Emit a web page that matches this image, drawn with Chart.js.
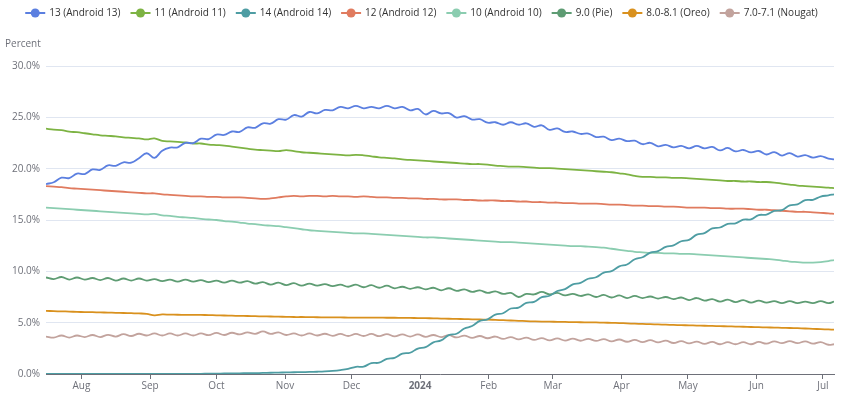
<!DOCTYPE html>
<html>
<head>
<meta charset="utf-8">
<script src="https://cdn.jsdelivr.net/npm/chart.js@4.4.1/dist/chart.umd.min.js"></script>
<style>
  html, body { margin: 0; padding: 0; background: #fff; }
  canvas { display: block; }
</style>
</head>
<body>
<canvas id="chart" width="843" height="396"></canvas>
<script>
// days since 2023-07-16, one sample every 3.5 days
const sampleDays = [0,3.5,7,10.5,14,17.5,21,24.5,28,31.5,35,38.5,42,45.5,49,52.5,56,59.5,63,66.5,
  70,73.5,77,80.5,84,87.5,91,94.5,98,101.5,105,108.5,112,115.5,119,122.5,126,129.5,133,136.5,
  140,143.5,147,150.5,154,157.5,161,164.5,168,171.5,175,178.5,182,185.5,189,192.5,196,199.5,203,206.5,
  210,213.5,217,220.5,224,227.5,231,234.5,238,241.5,245,248.5,252,255.5,259,262.5,266,269.5,273,276.5,
  280,283.5,287,290.5,294,297.5,301,304.5,308,311.5,315,318.5,322,325.5,329,332.5,336,339.5,343,346.5,
  350,353.5,356]

// month ticks (day offsets) and their labels
const monthDays   = [16, 47, 77, 108, 138, 169, 200, 229, 260, 290, 321, 351]
const monthLabels = ["Aug", "Sep", "Oct", "Nov", "Dec", "2024", "Feb", "Mar", "Apr", "May", "Jun", "Jul"]

const seriesNames = ["13 (Android 13)", "11 (Android 11)", "14 (Android 14)", "12 (Android 12)",
  "10 (Android 10)", "9.0 (Pie)", "8.0-8.1 (Oreo)", "7.0-7.1 (Nougat)"]
const seriesColors = ["#5b7fe0", "#7db343", "#4e9da3", "#e07b5f", "#8bcdb0", "#5e9c73", "#d9911e", "#c2a39d"]

const android13 = [18.5,18.68,19.12,19.08,19.52,19.48,19.92,19.88,20.32,20.28,
  20.62,20.58,21.02,21.5,21.05,21.75,22.05,22.08,22.52,22.48,
  22.92,22.88,23.32,23.28,23.62,23.58,24.02,23.98,24.42,24.38,
  24.82,24.78,25.22,25.08,25.52,25.38,25.72,25.68,26.02,25.88,
  26.12,25.88,26.02,25.88,26.12,25.88,26.02,25.68,25.82,25.28,
  25.62,25.38,25.42,24.98,25.12,24.78,24.82,24.48,24.52,24.28,
  24.52,24.28,24.42,24.08,24.22,23.78,23.92,23.58,23.62,23.38,
  23.42,23.08,23.12,22.78,22.92,22.68,22.72,22.38,22.52,22.18,
  22.32,22.08,22.22,21.98,22.22,21.98,22.12,21.78,22.02,21.68,
  21.82,21.58,21.72,21.38,21.62,21.28,21.52,21.18,21.32,21.08,
  21.22,20.98,20.9]
const android11 = [23.9,23.8,23.75,23.6,23.55,23.45,23.35,23.25,23.2,23.15,
  23.05,23.0,22.95,22.85,22.95,22.7,22.65,22.6,22.55,22.45,
  22.45,22.35,22.3,22.25,22.15,22.05,21.95,21.85,21.8,21.75,
  21.7,21.8,21.7,21.6,21.55,21.5,21.45,21.4,21.35,21.3,
  21.35,21.3,21.2,21.1,21.05,21.0,20.9,20.85,20.8,20.75,
  20.7,20.65,20.6,20.55,20.5,20.45,20.45,20.4,20.3,20.25,
  20.2,20.2,20.15,20.1,20.05,20.05,20.0,19.95,19.9,19.85,
  19.8,19.75,19.7,19.65,19.55,19.45,19.3,19.2,19.2,19.15,
  19.15,19.1,19.1,19.05,19.0,18.95,18.9,18.85,18.8,18.8,
  18.75,18.75,18.7,18.7,18.65,18.55,18.45,18.35,18.3,18.25,
  18.2,18.15,18.1]
const android14 = [0,0,0,0,0,0,0,0,0,0,
  0,0,0,0,0,0,0,0,0,0.01,
  0.02,0.03,0.04,0.05,0.06,0.07,0.08,0.09,0.1,0.12,
  0.14,0.15,0.17,0.18,0.2,0.22,0.25,0.3,0.38,0.5,
  0.7,0.72,1.06,1.1,1.48,1.57,1.98,2.07,2.48,2.62,
  3.08,3.27,3.78,3.92,4.43,4.67,5.18,5.32,5.78,5.92,
  6.38,6.47,6.93,7.02,7.48,7.62,8.08,8.27,8.73,8.87,
  9.28,9.42,9.88,10.02,10.48,10.67,11.18,11.37,11.83,11.97,
  12.38,12.52,12.93,13.07,13.58,13.72,14.18,14.27,14.63,14.67,
  15.03,15.07,15.48,15.52,15.88,15.97,16.43,16.52,16.93,16.97,
  17.28,17.4,17.5]
const android12 = [18.3,18.25,18.2,18.1,18.05,18.0,17.95,17.9,17.85,17.8,
  17.75,17.7,17.65,17.6,17.6,17.5,17.45,17.4,17.35,17.3,
  17.3,17.25,17.25,17.2,17.2,17.2,17.15,17.1,17.05,17.1,
  17.2,17.3,17.35,17.3,17.35,17.35,17.3,17.35,17.3,17.3,
  17.25,17.3,17.25,17.2,17.2,17.15,17.15,17.1,17.1,17.05,
  17.05,17.0,17.0,17.0,16.95,16.95,16.9,16.9,16.9,16.85,
  16.85,16.8,16.8,16.75,16.75,16.7,16.7,16.65,16.65,16.6,
  16.6,16.6,16.55,16.5,16.5,16.45,16.4,16.4,16.35,16.35,
  16.3,16.3,16.25,16.2,16.2,16.2,16.15,16.15,16.1,16.1,
  16.1,16.05,16.0,16.0,15.95,15.9,15.85,15.8,15.8,15.75,
  15.7,15.65,15.6]
const android10 = [16.2,16.15,16.1,16.05,16.0,15.95,15.9,15.85,15.8,15.75,
  15.7,15.65,15.6,15.55,15.6,15.45,15.4,15.3,15.25,15.2,
  15.1,15.05,15.0,14.9,14.85,14.75,14.65,14.6,14.5,14.45,
  14.4,14.3,14.2,14.1,14.0,13.95,13.9,13.85,13.8,13.75,
  13.7,13.7,13.65,13.6,13.55,13.5,13.45,13.4,13.35,13.3,
  13.3,13.25,13.2,13.15,13.1,13.05,13.0,12.95,12.9,12.85,
  12.85,12.8,12.75,12.7,12.65,12.6,12.55,12.5,12.45,12.45,
  12.4,12.35,12.3,12.2,12.1,12.0,11.9,11.85,11.8,11.8,
  11.75,11.75,11.7,11.7,11.65,11.6,11.55,11.5,11.45,11.4,
  11.35,11.3,11.25,11.2,11.15,11.05,10.95,10.9,10.85,10.85,
  10.9,11.0,11.1]
const pie = [9.4,9.25,9.45,9.2,9.4,9.2,9.35,9.15,9.35,9.1,
  9.3,9.1,9.3,9.1,9.25,9.05,9.2,9.0,9.2,9.0,
  9.15,8.95,9.1,8.9,9.1,8.9,9.05,8.8,8.95,8.7,
  8.9,8.65,8.85,8.6,8.8,8.6,8.75,8.55,8.7,8.5,
  8.7,8.45,8.65,8.4,8.6,8.35,8.5,8.3,8.45,8.25,
  8.4,8.15,8.35,8.1,8.25,8.0,8.15,7.9,8.05,7.8,
  7.9,7.5,7.8,7.75,8.0,7.75,7.9,7.65,7.8,7.6,
  7.75,7.5,7.7,7.45,7.65,7.4,7.6,7.4,7.55,7.35,
  7.5,7.3,7.45,7.2,7.4,7.15,7.3,7.05,7.25,7.0,
  7.2,6.95,7.15,6.95,7.1,6.9,7.1,6.9,7.05,6.9,
  7.1,6.9,7.05]
const oreo = [6.15,6.12,6.1,6.08,6.05,6.03,6.02,6.0,5.98,5.96,
  5.94,5.92,5.9,5.86,5.72,5.8,5.78,5.77,5.76,5.75,
  5.75,5.74,5.72,5.7,5.68,5.66,5.65,5.63,5.61,5.6,
  5.58,5.57,5.55,5.55,5.54,5.53,5.52,5.52,5.51,5.5,
  5.5,5.5,5.49,5.49,5.48,5.48,5.47,5.46,5.45,5.44,
  5.42,5.4,5.38,5.36,5.35,5.33,5.31,5.3,5.27,5.24,
  5.21,5.18,5.15,5.12,5.1,5.1,5.08,5.07,5.05,5.04,
  5.03,5.02,5.0,4.98,4.96,4.93,4.9,4.88,4.85,4.83,
  4.8,4.78,4.76,4.74,4.72,4.7,4.68,4.66,4.64,4.62,
  4.6,4.58,4.56,4.54,4.52,4.5,4.48,4.46,4.43,4.4,
  4.37,4.34,4.32]
const nougat = [3.65,3.55,3.75,3.55,3.75,3.6,3.8,3.6,3.82,3.65,
  3.88,3.7,3.92,3.75,3.95,3.75,3.95,3.75,3.95,3.75,
  3.95,3.78,4.0,3.8,4.02,3.85,4.05,3.9,4.15,3.9,
  4.05,3.8,3.95,3.75,3.95,3.75,3.92,3.72,3.9,3.7,
  3.9,3.7,3.9,3.68,3.88,3.66,3.86,3.65,3.85,3.62,
  3.8,3.6,3.78,3.56,3.74,3.52,3.7,3.48,3.65,3.42,
  3.6,3.37,3.54,3.32,3.5,3.28,3.47,3.26,3.45,3.24,
  3.43,3.22,3.4,3.18,3.36,3.14,3.32,3.1,3.3,3.08,
  3.25,3.02,3.2,2.98,3.15,2.93,3.12,2.9,3.1,2.9,
  3.1,2.9,3.12,2.95,3.18,3.0,3.2,3.0,3.18,2.95,
  3.1,2.85,2.9]

const seriesValues = [android13, android11, android14, android12, android10, pie, oreo, nougat]

const FONT = "'Open Sans', 'Liberation Sans', sans-serif"
const AXIS_GRAY = "#6e7079"

// legend with line + dot markers, plus the "Percent" axis name
const legendPlugin = {
  id: "topLegend",
  afterDraw(chart) {
    const ctx = chart.ctx
    ctx.save()
    ctx.font = `10px ${FONT}`
    ctx.textBaseline = "middle"
    const iconW = 20, textGap = 4, itemGap = 10, y = 13
    const widths = seriesNames.map(n => ctx.measureText(n).width)
    const total = widths.reduce((a, w) => a + iconW + textGap + w, 0) + itemGap * (seriesNames.length - 1)
    let x = 421.5 - total / 2
    seriesNames.forEach((name, i) => {
      ctx.strokeStyle = seriesColors[i]
      ctx.lineWidth = 2
      ctx.beginPath(); ctx.moveTo(x, y); ctx.lineTo(x + iconW, y); ctx.stroke()
      ctx.fillStyle = seriesColors[i]
      ctx.beginPath(); ctx.arc(x + iconW / 2, y, 4.5, 0, Math.PI * 2); ctx.fill()
      ctx.fillStyle = "#333"
      ctx.textAlign = "left"
      ctx.fillText(name, x + iconW + textGap, y + 0.5)
      x += iconW + textGap + widths[i] + itemGap
    })
    ctx.fillStyle = AXIS_GRAY
    ctx.fillText("Percent", 5, 44)
    ctx.restore()
  }
}

new Chart(document.getElementById("chart").getContext("2d"), {
  type: "line",
  data: {
    datasets: seriesNames.map((name, i) => ({
      label: name,
      data: sampleDays.map((d, k) => ({ x: d, y: seriesValues[i][k] })),
      borderColor: seriesColors[i],
      backgroundColor: seriesColors[i],
      borderWidth: 1.8,
      pointRadius: 0,
      tension: 0.4,
      fill: false
    }))
  },
  options: {
    responsive: false,
    animation: false,
    layout: { padding: { top: 66, right: 9, left: 0, bottom: 0 } },
    plugins: { legend: { display: false }, tooltip: { enabled: false } },
    scales: {
      x: {
        type: "linear", min: 0, max: 356,
        afterBuildTicks: s => { s.ticks = monthDays.map(v => ({ value: v })) },
        afterFit: s => { s.height = 22 },
        ticks: {
          autoSkip: false, maxRotation: 0, padding: 1, color: AXIS_GRAY,
          callback: v => monthLabels[monthDays.indexOf(v)],
          font: c => ({ family: FONT, size: 10, weight: c.tick && c.tick.value === 169 ? "bold" : "normal" })
        },
        grid: { drawOnChartArea: false, drawTicks: true, tickLength: 5, color: AXIS_GRAY },
        border: { display: true, color: AXIS_GRAY }
      },
      y: {
        min: 0, max: 30,
        afterFit: s => { s.width = 46 },
        ticks: { stepSize: 5, padding: 6, color: AXIS_GRAY, font: { family: FONT, size: 10 },
          callback: v => v.toFixed(1) + "%" },
        grid: { color: "#e0e6f1", drawTicks: false },
        border: { display: false }
      }
    }
  },
  plugins: [legendPlugin]
})
</script>
</body>
</html>
